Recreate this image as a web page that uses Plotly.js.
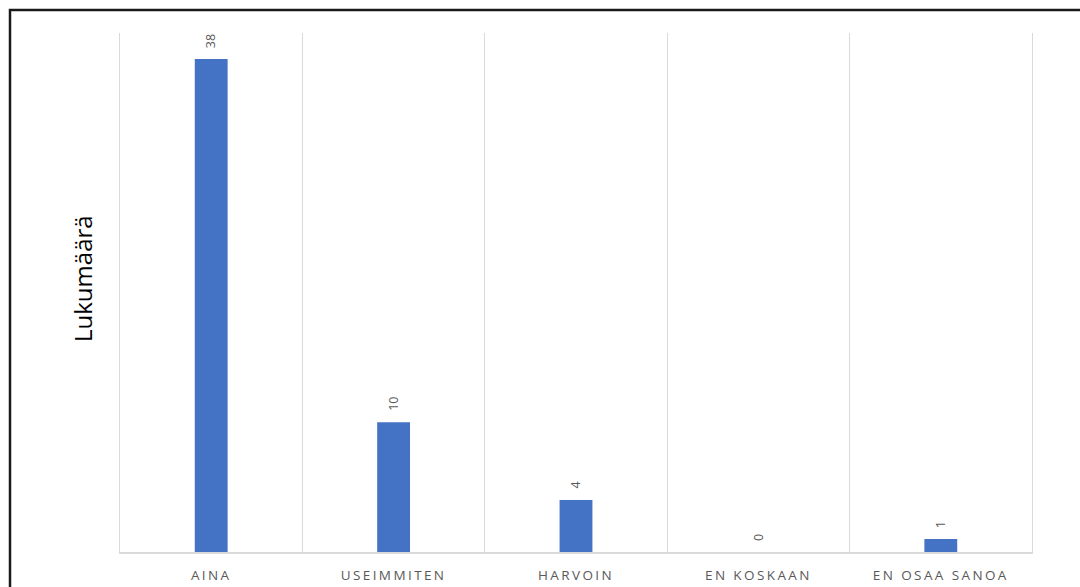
<!DOCTYPE html>
<html>
<head>
<meta charset="utf-8">
<script src="https://cdn.plot.ly/plotly-3.0.1.min.js"></script>
<style>
  html, body { margin: 0; padding: 0; background: #ffffff; }
  #chart { width: 1080px; height: 587px; }
  /* Excel-style spaced capitals on the category axis */
  #chart .xtick text { letter-spacing: 2.4px; }
</style>
</head>
<body>
<div id="chart"></div>
<script>
// Answer categories and their counts
const categories = ["AINA", "USEIMMITEN", "HARVOIN", "EN KOSKAAN", "EN OSAA SANOA"];
const counts = [38, 10, 4, 0, 1];
const yTitle = "Lukumäärä";

const barColor = "#4472C4";
const gridColor = "#d9d9d9";
const labelColor = "#595959";

const plotLeft = 120, plotRight = 1032, plotTop = 33, plotBottom = 552;
const W = 1080, H = 587;
const plotW = plotRight - plotLeft, plotH = plotBottom - plotTop;

// Value labels above each bar, rotated like the Excel original
const valueLabels = categories.map((c, i) => ({
  x: c, y: counts[i], xref: "x", yref: "y",
  text: String(counts[i]), showarrow: false,
  textangle: -90, yanchor: "bottom", xanchor: "center", yshift: 9,
  font: { family: "Open Sans, sans-serif", size: 12.5, color: labelColor }
}));

// Vertical axis caption, placed a little above the plot's middle
const axisCaption = {
  xref: "paper", yref: "paper",
  x: (82 - plotLeft) / plotW, y: (plotBottom - 279) / plotH,
  xanchor: "center", yanchor: "middle",
  text: yTitle, showarrow: false, textangle: -90,
  font: { family: "Open Sans, sans-serif", size: 24, color: "#000000" }
};

const trace = {
  type: "bar",
  x: categories,
  y: counts,
  marker: { color: barColor, line: { width: 0 } },
  hoverinfo: "x+y"
};

const layout = {
  width: W, height: H,
  margin: { l: plotLeft, r: W - plotRight, t: plotTop, b: H - plotBottom, pad: 0 },
  paper_bgcolor: "#ffffff",
  plot_bgcolor: "#ffffff",
  showlegend: false,
  bargap: 0.82,
  font: { family: "Open Sans, sans-serif", color: labelColor },
  xaxis: {
    type: "category",
    tickson: "boundaries",
    showgrid: true, gridcolor: gridColor, gridwidth: 1,
    showline: true, linecolor: gridColor, linewidth: 1.5,
    ticks: "", ticklen: 0, ticklabelstandoff: 10,
    tickfont: { family: "Open Sans, sans-serif", size: 13.5, color: labelColor },
    zeroline: false, fixedrange: true
  },
  yaxis: {
    range: [0, 40],
    showgrid: false, zeroline: false,
    showticklabels: false, ticks: "",
    showline: true, mirror: true, linecolor: gridColor, linewidth: 1,
    fixedrange: true
  },
  annotations: valueLabels.concat([axisCaption]),
  shapes: [{
    // outer chart frame
    type: "rect", xref: "paper", yref: "paper",
    x0: (10 - plotLeft) / plotW, x1: (W + 20 - plotLeft) / plotW,
    y0: (plotBottom - (H + 20)) / plotH, y1: (plotBottom - 10) / plotH,
    line: { color: "#1a1a1a", width: 2.5 }, fillcolor: "rgba(0,0,0,0)", layer: "above"
  }]
};

Plotly.newPlot("chart", [trace], layout, { displayModeBar: false, staticPlot: true });
</script>
</body>
</html>
